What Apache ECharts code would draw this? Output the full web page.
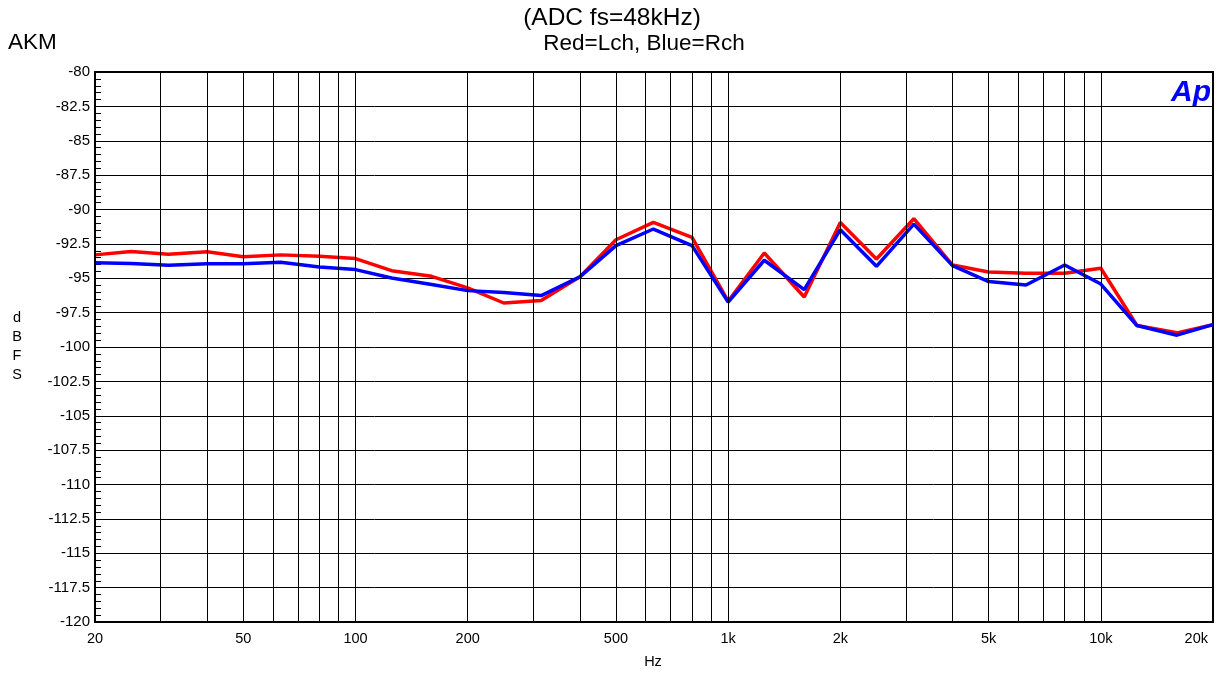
<!DOCTYPE html>
<html>
<head>
<meta charset="utf-8">
<script src="https://cdn.jsdelivr.net/npm/echarts@6/dist/echarts.min.js"></script>
<style>
html,body{margin:0;padding:0;background:#fff;}
#chart{width:1225px;height:676px;}
</style>
</head>
<body>
<div id="chart"></div>
<script>
// 1/3-octave frequencies (Hz)
const freqs = [20,25,31.5,40,50,63,80,100,125,160,200,250,315,400,500,630,800,1000,1250,1600,2000,2500,3150,4000,5000,6300,8000,10000,12500,16000,20000];
// Lch (red), dBFS
const lch = [-93.3,-93.05,-93.25,-93.07,-93.43,-93.3,-93.4,-93.57,-94.45,-94.86,-95.7,-96.8,-96.62,-94.9,-92.2,-90.94,-92.03,-96.67,-93.16,-96.36,-90.94,-93.6,-90.67,-94.04,-94.55,-94.64,-94.64,-94.27,-98.44,-98.97,-98.37];
// Rch (blue), dBFS
const rch = [-93.87,-93.92,-94.06,-93.94,-93.94,-93.84,-94.18,-94.37,-94.98,-95.46,-95.9,-96.03,-96.26,-94.9,-92.63,-91.42,-92.63,-96.74,-93.69,-95.83,-91.47,-94.13,-91.06,-94.08,-95.24,-95.49,-94.04,-95.42,-98.44,-99.14,-98.37];
// vertical grid lines without labels (Hz)
const gridFreqs = [30,40,60,70,80,90,300,400,600,700,800,900,3000,4000,6000,7000,8000,9000];
// x tick labels (also drawn as grid lines)
const xTickVals = [20,50,100,200,500,1000,2000,5000,10000,20000];
const xTickText = ['20','50','100','200','500','1k','2k','5k','10k','20k'];

const chart = echarts.init(document.getElementById('chart'));
const font = 'Liberation Sans, Arial, sans-serif';

const gridLineData = gridFreqs.map(f => ({xAxis: f}));
const last = xTickVals.length - 1;
const labelData = xTickVals.map((f, i) => ({
  xAxis: f,
  label: {
    show: true,
    formatter: xTickText[i],
    position: 'start',
    distance: 9,
    color: '#000',
    fontSize: 14.5,
    fontFamily: font,
    align: i === last ? 'right' : 'center',
    offset: i === last ? [-5, 0] : [0, 0]
  }
}));

chart.setOption({
  animation: false,
  backgroundColor: '#fff',
  grid: {left: 95, top: 72, width: 1118, height: 550, show: true, borderColor: '#000', borderWidth: 2, backgroundColor: 'transparent'},
  xAxis: {
    type: 'log', min: 20, max: 20000, logBase: 10,
    axisLine: {show: false}, axisTick: {show: false}, axisLabel: {show: false}, splitLine: {show: false}
  },
  yAxis: {
    type: 'value', min: -120, max: -80, interval: 2.5,
    axisLine: {show: true, lineStyle: {color: '#000', width: 2}},
    axisTick: {show: true, inside: true, length: 0},
    minorTick: {show: true, splitNumber: 5, length: 6, lineStyle: {color: '#000', width: 1}},
    axisLabel: {color: '#000', fontSize: 15, fontFamily: font, margin: 5},
    splitLine: {show: true, lineStyle: {color: '#000', width: 1}}
  },
  graphic: [
    {type: 'text', x: 612, y: 18, style: {text: '(ADC fs=48kHz)', fill: '#000', font: '24.5px ' + font, textAlign: 'center', textVerticalAlign: 'middle'}},
    {type: 'text', x: 644, y: 44, style: {text: 'Red=Lch, Blue=Rch', fill: '#000', font: '22.5px ' + font, textAlign: 'center', textVerticalAlign: 'middle'}},
    {type: 'text', x: 8, y: 43, style: {text: 'AKM', fill: '#000', font: '22.5px ' + font, textAlign: 'left', textVerticalAlign: 'middle'}},
    {type: 'text', x: 17, y: 346, style: {text: 'd\nB\nF\nS', fill: '#000', font: '14.5px ' + font, textAlign: 'center', textVerticalAlign: 'middle', lineHeight: 19}},
    {type: 'text', x: 653, y: 662, style: {text: 'Hz', fill: '#000', font: '14.5px ' + font, textAlign: 'center', textVerticalAlign: 'middle'}},
    {type: 'text', x: 1211, y: 93, style: {text: 'Ap', fill: '#0000ff', font: 'italic bold 30px ' + font, textAlign: 'right', textVerticalAlign: 'middle'}}
  ],
  series: [
    {
      type: 'line', name: 'Lch', data: freqs.map((f, i) => [f, lch[i]]),
      symbol: 'none', lineStyle: {color: '#ff0000', width: 3.5}, z: 3,
      markLine: {
        silent: true, symbol: ['none', 'none'], animation: false,
        lineStyle: {color: '#000', width: 1, type: 'solid'},
        label: {show: false},
        data: gridLineData.concat(labelData)
      }
    },
    {
      type: 'line', name: 'Rch', data: freqs.map((f, i) => [f, rch[i]]),
      symbol: 'none', lineStyle: {color: '#0000ff', width: 3.5}, z: 4
    }
  ]
});
</script>
</body>
</html>
